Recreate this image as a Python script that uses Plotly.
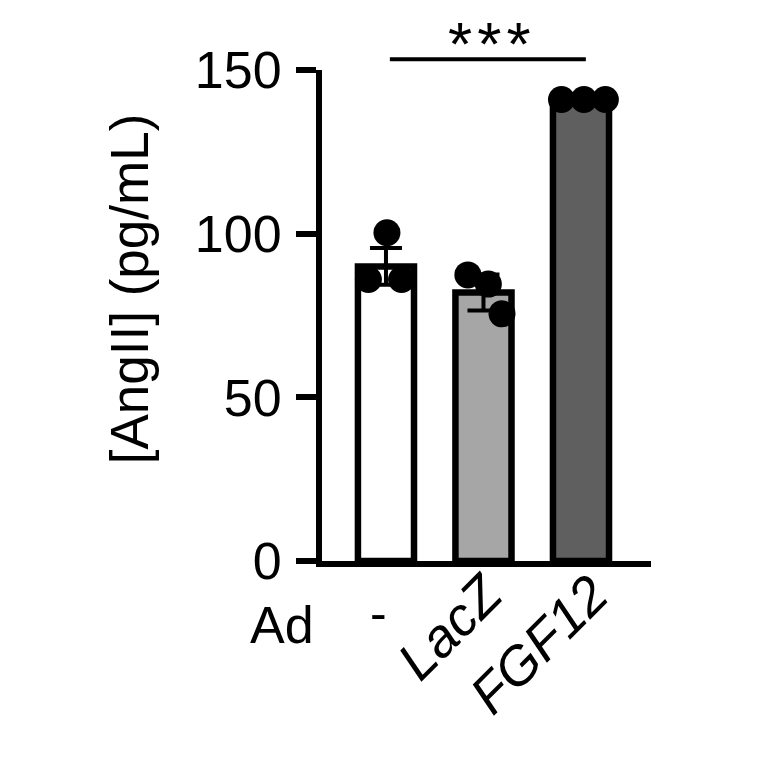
import plotly.graph_objects as go

# ---- data ----
categories = ["-", "LacZ", "FGF12"]
means = [90.0, 82.0, 140.5]
sems = [5.6, 5.5, 0.6]
points_ctrl = [86.0, 100.3, 86.0]
points_lacz = [87.4, 84.6, 75.5]
points_fgf12 = [141.0, 141.0, 141.0]
ytick_vals = [0, 50, 100, 150]
sig_label = "*\u200a*\u200a*"
group_label = "Ad"
y_title = "[AngII] (pg/mL)"

# ---- styling ----
bar_colors = ["#ffffff", "#a6a6a6", "#5f5f5f"]
jitter = [[-0.18, 0.01, 0.16], [-0.16, 0.05, 0.19], [-0.20, 0.03, 0.25]]
FONT = "Arial, Liberation Sans, sans-serif"
xs = list(range(len(categories)))

fig = go.Figure()
fig.add_trace(go.Bar(
    x=xs, y=means, width=0.575,
    marker=dict(color=bar_colors, line=dict(color="black", width=6.5)),
    error_y=dict(type="data", array=sems, visible=True, color="black",
                 thickness=4, width=16),
    showlegend=False,
))

all_points = [points_ctrl, points_lacz, points_fgf12]
px_, py_ = [], []
for i, pts in enumerate(all_points):
    for j, v in enumerate(pts):
        px_.append(xs[i] + jitter[i][j])
        py_.append(v)
fig.add_trace(go.Scatter(
    x=px_, y=py_, mode="markers",
    marker=dict(color="black", size=27, line=dict(width=0)),
    showlegend=False, cliponaxis=False,
))

# significance line
fig.add_shape(type="line", xref="x", yref="paper",
              x0=xs[0] + 0.04, x1=xs[2] + 0.05, y0=1.022, y1=1.022,
              line=dict(color="black", width=4))
fig.add_annotation(text=sig_label, xref="x", yref="paper",
                   x=(xs[0] + xs[2]) / 2 + 0.06, y=0.9796, yanchor="bottom",
                   showarrow=False, font=dict(family=FONT, size=62, color="black"))

# category labels
label_pos = [(-0.08, -0.106, 0), (0.66, -0.133, -45), (1.57, -0.170, -45)]
for i, cat in enumerate(categories):
    dx, ypap, ang = label_pos[i]
    txt = cat if ang == 0 else "<i>" + cat + "</i>"
    fig.add_annotation(text=txt, xref="x", yref="paper", x=dx,
                       y=ypap, xanchor="center", yanchor="middle", textangle=ang,
                       showarrow=False,
                       font=dict(family=FONT, size=50 if ang == 0 else 54, color="black"))

fig.add_annotation(text=group_label, xref="paper", yref="paper",
                   x=(282 - 322) / 329, y=(564 - 628) / 491,
                   xanchor="center", yanchor="middle", showarrow=False,
                   font=dict(family=FONT, size=52, color="black"))

fig.add_annotation(text=y_title, xref="paper", yref="paper",
                   x=-0.586, y=(560 - 288) / 491, textangle=-90,
                   xanchor="center", yanchor="middle", showarrow=False,
                   font=dict(family=FONT, size=53, color="black"))

fig.update_layout(
    width=764, height=764,
    margin=dict(l=314, r=121, t=62, b=211),
    paper_bgcolor="white", plot_bgcolor="white",
    bargap=0.3,
    xaxis=dict(range=[-0.656, 2.718], showgrid=False, zeroline=False,
               showticklabels=False, ticks="", showline=True,
               linecolor="black", linewidth=6),
    yaxis=dict(range=[0, 150], tickvals=ytick_vals, showgrid=False, zeroline=False,
               ticks="outside", ticklen=20, tickwidth=6, tickcolor="black",
               showline=True, linecolor="black", linewidth=6,
               tickfont=dict(family=FONT, size=52, color="black"),
               ticklabelstandoff=4),
)

fig.write_html("out.html")
